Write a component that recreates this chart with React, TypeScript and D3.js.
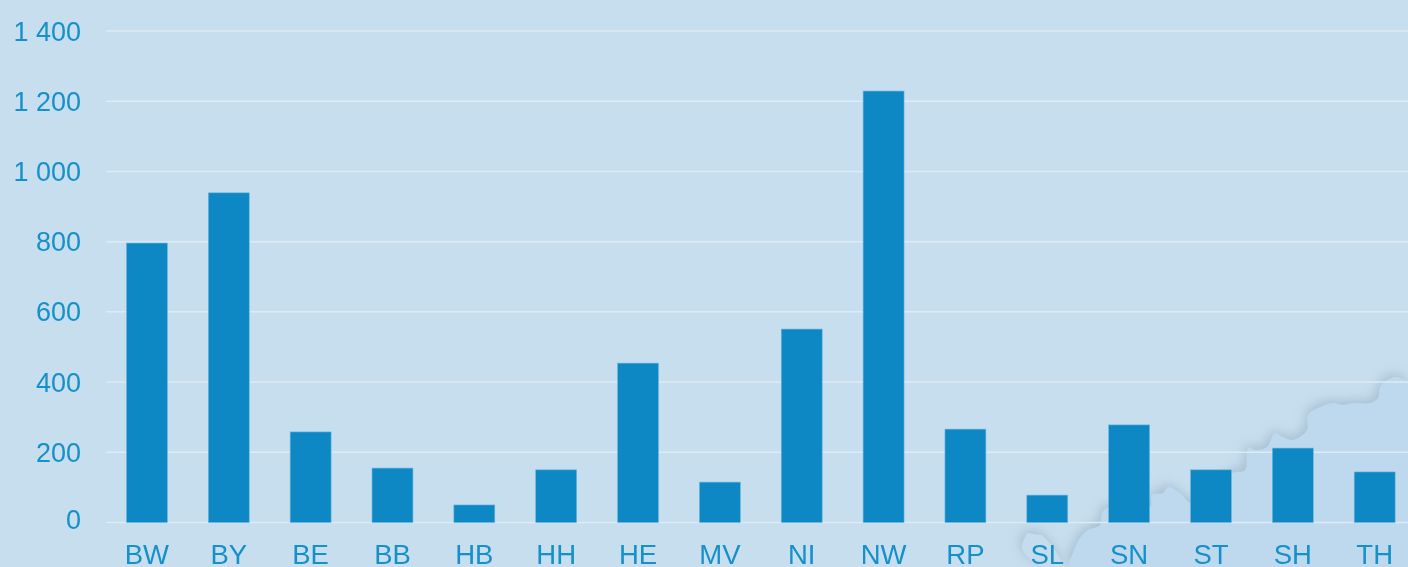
import { useEffect, useRef } from 'react'
import * as d3 from 'd3'

const states = ['BW', 'BY', 'BE', 'BB', 'HB', 'HH', 'HE', 'MV', 'NI', 'NW', 'RP', 'SL', 'SN', 'ST', 'SH', 'TH']
const values = [796, 939, 258, 155, 50, 150, 454, 115, 551, 1229, 266, 78, 278, 150, 212, 144]
const yTicks = [0, 200, 400, 600, 800, 1000, 1200, 1400]

// decorative map silhouette behind the chart
const mapPoints: [number, number][] = [
  [1408, 382], [1397, 377], [1387, 380], [1380, 387], [1378, 398], [1370, 403], [1353, 403], [1343, 405],
  [1333, 403], [1320, 407], [1308, 415], [1307, 430], [1293, 440], [1283, 437], [1275, 433], [1267, 447],
  [1257, 450], [1248, 448], [1245, 470], [1232, 473], [1192, 503], [1180, 493], [1168, 487], [1163, 493],
  [1152, 495], [1150, 507], [1107, 508], [1102, 513], [1100, 525], [1088, 530], [1080, 538], [1073, 553], [1070, 567],
  [1408, 567],
]
const islandPoints: [number, number][] = [
  [1027, 533], [1022, 548], [1035, 563], [1045, 567], [1062, 567], [1055, 550], [1042, 535],
]

const fmt = (d: number) => (d >= 1000 ? `${Math.floor(d / 1000)} ${String(d % 1000).padStart(3, '0')}` : `${d}`)

export default function App() {
  const ref = useRef<SVGSVGElement>(null)

  useEffect(() => {
    if (!ref.current) return
    const svg = d3.select(ref.current)
    svg.selectAll('*').remove()

    const width = 1408
    const height = 567
    const margin = { left: 106, top: 31, bottom: 44.5 }
    const blue = '#0d88c5'
    const labelBlue = '#1490cb'

    const x = d3.scaleBand<string>().domain(states).range([margin.left, margin.left + 81.85 * states.length]).paddingInner(0.5).paddingOuter(0.25)
    const y = d3.scaleLinear().domain([0, 1400]).range([height - margin.bottom, margin.top])

    svg.append('rect').attr('width', width).attr('height', height).attr('fill', '#c7deee')

    const defs = svg.append('defs')
    defs.append('filter').attr('id', 'mapShadow').attr('x', '-10%').attr('y', '-10%').attr('width', '120%').attr('height', '120%')
      .append('feDropShadow').attr('dx', -2).attr('dy', -3).attr('stdDeviation', 6).attr('flood-color', '#98b1c4').attr('flood-opacity', 0.7)
    defs.append('filter').attr('id', 'soft').append('feGaussianBlur').attr('stdDeviation', 0.45)

    const outline = d3.line().curve(d3.curveCatmullRom)
    const mapG = svg.append('g').attr('filter', 'url(#mapShadow)')
    mapG.append('path').attr('d', outline(mapPoints)!).attr('fill', '#bed9ed')
    mapG.append('path').attr('d', outline(islandPoints)! + 'Z').attr('fill', '#c4dcee')

    svg.append('g').selectAll('line').data(yTicks).join('line')
      .attr('x1', margin.left).attr('x2', width)
      .attr('y1', d => y(d)).attr('y2', d => y(d))
      .attr('stroke', '#dcebf5').attr('stroke-width', 1.5)

    svg.append('g').selectAll('rect').data(values).join('rect')
      .attr('x', (_, i) => x(states[i])!)
      .attr('y', d => y(d))
      .attr('width', x.bandwidth())
      .attr('height', d => y(0) - y(d))
      .attr('fill', blue)
      .attr('stroke', '#6db6dc').attr('stroke-width', 0.6)

    const font = 'Liberation Sans, Arial, sans-serif'
    const textG = svg.append('g').attr('filter', 'url(#soft)')
    textG.append('g').selectAll('text').data(yTicks).join('text')
      // the zero label sits a little above its gridline in the original
      .attr('x', 81).attr('y', d => y(d) + (d === 0 ? 6 : 9.5))
      .attr('text-anchor', 'end')
      .attr('font-family', font).attr('font-size', 27).attr('fill', labelBlue)
      .text(d => fmt(d))

    textG.append('g').selectAll('text').data(states).join('text')
      .attr('x', d => x(d)! + x.bandwidth() / 2).attr('y', 564)
      .attr('text-anchor', 'middle')
      .attr('font-family', font).attr('font-size', 27.5).attr('fill', labelBlue)
      .text(d => d)
  }, [])

  return <svg ref={ref} width={1408} height={567} style={{ position: 'fixed', left: 0, top: 0, display: 'block' }} />
}
